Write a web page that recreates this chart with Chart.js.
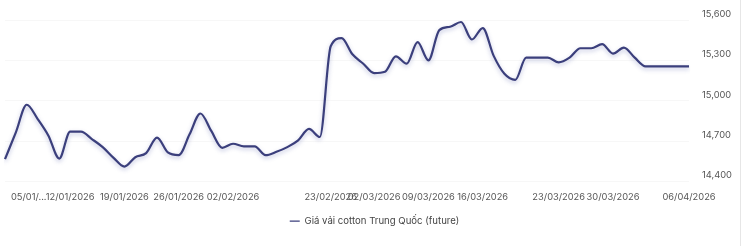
<!DOCTYPE html>
<html>
<head>
<meta charset="utf-8">
<script src="https://cdn.jsdelivr.net/npm/chart.js@4.4.1/dist/chart.umd.min.js"></script>
<style>
  html, body { margin: 0; padding: 0; background: #fff; }
  #wrap { position: relative; width: 744px; height: 246px; }
  #edge { position: absolute; left: 740px; top: 0; width: 1px; height: 246px; background: #e6e6e6; }
</style>
</head>
<body>
<div id="wrap"><canvas id="c"></canvas><div id="edge"></div></div>
<script>
// Categories (one per data point)
const dates = [
  '05/01/2026','06/01/2026','07/01/2026','08/01/2026','09/01/2026','10/01/2026',
  '12/01/2026','13/01/2026','14/01/2026','15/01/2026','16/01/2026',
  '19/01/2026','20/01/2026','21/01/2026','22/01/2026','23/01/2026',
  '26/01/2026','27/01/2026','28/01/2026','29/01/2026','30/01/2026',
  '02/02/2026','03/02/2026','04/02/2026','05/02/2026','06/02/2026','09/02/2026','10/02/2026','11/02/2026','12/02/2026',
  '23/02/2026','24/02/2026','25/02/2026','26/02/2026',
  '02/03/2026','03/03/2026','04/03/2026','05/03/2026','06/03/2026',
  '09/03/2026','10/03/2026','11/03/2026','12/03/2026','13/03/2026',
  '16/03/2026','17/03/2026','18/03/2026','19/03/2026','20/03/2026','21/03/2026','22/03/2026',
  '23/03/2026','24/03/2026','25/03/2026','26/03/2026','27/03/2026',
  '30/03/2026','31/03/2026','01/04/2026','02/04/2026','03/04/2026','04/04/2026','05/04/2026',
  '06/04/2026'
];
// Series values
const cottonFuture = [
  14565,14765,14970,14865,14740,14570,
  14770,14770,14715,14655,14575,
  14510,14580,14610,14725,14615,
  14595,14750,14905,14775,14650,
  14680,14660,14660,14595,14620,14655,14705,14790,14730,
  15405,15465,15345,15275,
  15205,15215,15330,15275,15435,
  15300,15525,15550,15585,15455,
  15540,15335,15200,15155,15320,15320,15320,
  15285,15320,15390,15390,15420,
  15350,15395,15320,15255,15255,15255,15255,
  15255
];
// Tick labels shown on the x axis
const tickLabels = ['05/01/2026','12/01/2026','19/01/2026','26/01/2026','02/02/2026','23/02/2026',
  '02/03/2026','09/03/2026','16/03/2026','23/03/2026','30/03/2026','06/04/2026'];
const firstTickText = '05/01/...';
const yTicks = [14400, 14700, 15000, 15300, 15600];
const seriesName = 'Giá vải cotton Trung Quốc (future)';

const lineShadow = {
  id: 'lineShadow',
  beforeDatasetsDraw(chart) {
    const ctx = chart.ctx;
    ctx.save();
    ctx.shadowColor = 'rgba(70,80,160,0.35)';
    ctx.shadowBlur = 4;
    ctx.shadowOffsetY = 2;
  },
  afterDatasetsDraw(chart) { chart.ctx.restore(); }
};
const firstLabelShift = {
  id: 'firstLabelShift',
  beforeDraw(chart) {
    const sc = chart.scales.x;
    const items = sc.getLabelItems(chart.chartArea);
    const it = items.find(o => o.label === firstTickText);
    if (it) { it.options.textAlign = 'left'; it.options.translation[0] = 11; }
  }
};

const font = { family: 'Inter', size: 9.3 };
new Chart(document.getElementById('c'), {
  type: 'line',
  data: {
    labels: dates,
    datasets: [{
      label: seriesName,
      data: cottonFuture,
      borderColor: '#3b3f7c',
      backgroundColor: '#3b3f7c',
      borderWidth: 2.2,
      pointRadius: 0,
      pointHoverRadius: 0,
      pointStyle: 'line',
      cubicInterpolationMode: 'monotone',
      fill: false
    }]
  },
  options: {
    responsive: true,
    maintainAspectRatio: false,
    animation: false,
    layout: { padding: { left: 5, top: 20, right: 0, bottom: 10 } },
    plugins: {
      tooltip: { enabled: false },
      legend: {
        position: 'bottom',
        labels: {
          usePointStyle: true,
          pointStyleWidth: 10,
          boxHeight: 8,
          padding: 10,
          color: '#444',
          font: { family: 'Inter', size: 9.6 },
          generateLabels(chart) {
            const items = Chart.defaults.plugins.legend.labels.generateLabels(chart);
            items.forEach(it => { it.lineWidth = 1.2; it.strokeStyle = '#3b3f7c'; });
            return items;
          }
        }
      }
    },
    scales: {
      x: {
        type: 'category',
        grid: { display: false, drawTicks: false },
        border: { display: false },
        ticks: {
          autoSkip: false,
          maxRotation: 0,
          minRotation: 0,
          padding: 10,
          color: '#555',
          font: font,
          callback: function(v, i) {
            const d = dates[i];
            if (!tickLabels.includes(d)) return '';
            return i === 0 ? firstTickText : d;
          }
        },
        afterFit(scale) { scale.paddingLeft = 0; scale.height = 25; }
      },
      y: {
        position: 'right',
        min: yTicks[0],
        max: yTicks[yTicks.length - 1],
        afterBuildTicks(scale) { scale.ticks = yTicks.map(v => ({ value: v })); },
        grid: { color: 'rgba(0,0,0,0.03)', drawTicks: false },
        border: { display: false },
        ticks: {
          padding: 13,
          labelOffset: -6,
          color: '#555',
          font: font,
          callback: v => Number(v).toLocaleString('en-US')
        },
        afterFit(scale) { scale.width = 55; }
      }
    }
  },
  plugins: [lineShadow, firstLabelShift]
});
</script>
</body>
</html>
